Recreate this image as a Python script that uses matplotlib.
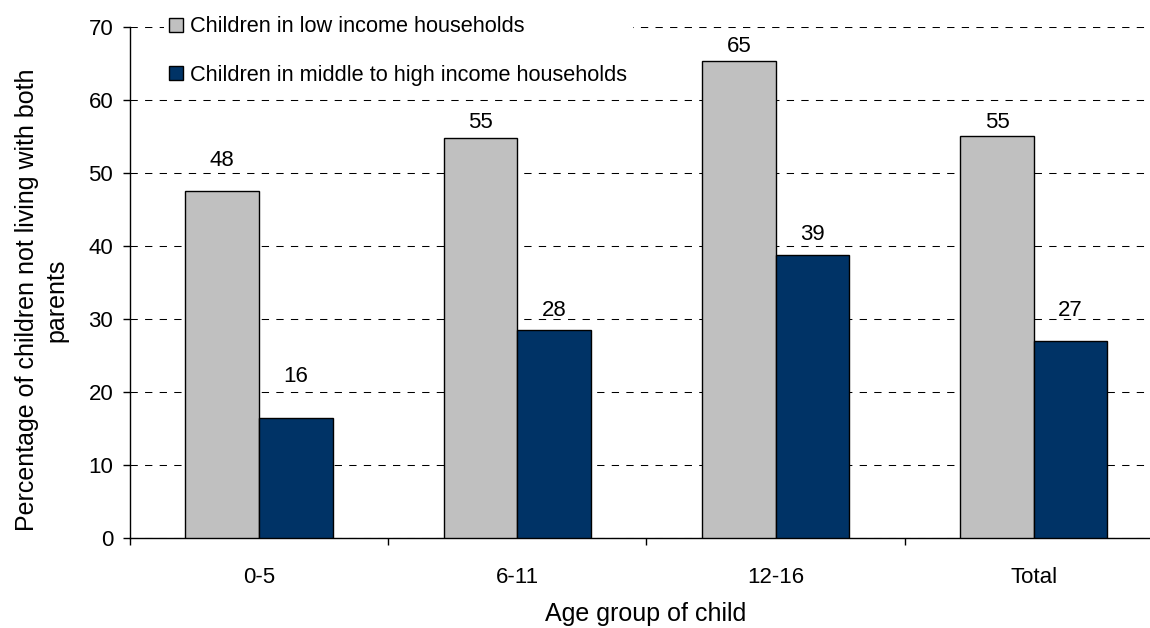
import numpy as np
import matplotlib
matplotlib.use("Agg")
import matplotlib.pyplot as plt

plt.rcParams['font.family'] = ['Liberation Sans', 'DejaVu Sans']

# data
age_groups = ["0-5", "6-11", "12-16", "Total"]
low_income = [47.6, 54.8, 65.4, 55.1]
mid_high_income = [16.5, 28.5, 38.8, 27.0]
low_labels = ["48", "55", "65", "55"]
mid_labels = ["16", "28", "39", "27"]

# gap (pixels) between bar top and its value label, as placed in the original
low_gap = [25, 10, 9, 8]
mid_gap = [36, 14, 15, 25]

GREY = "#C0C0C0"
NAVY = "#003366"

fig = plt.figure(figsize=(11.5, 6.28), dpi=100)
ax = fig.add_axes([0.1130, 0.1428, 0.8983, 0.8137])

x = np.arange(len(age_groups))
w = 0.285
b1 = ax.bar(x - w / 2, low_income, w, color=GREY, edgecolor="black", linewidth=1,
            label="Children in low income households", zorder=3)
b2 = ax.bar(x + w / 2, mid_high_income, w, color=NAVY, edgecolor="black", linewidth=1,
            label="Children in middle to high income households", zorder=3)

for rect, txt, gap in zip(b1, low_labels, low_gap):
    ax.annotate(txt, (rect.get_x() + rect.get_width() / 2, rect.get_height()),
                xytext=(0, gap), textcoords="offset pixels",
                ha="center", va="baseline", fontsize=16)
for rect, txt, gap in zip(b2, mid_labels, mid_gap):
    ax.annotate(txt, (rect.get_x() + rect.get_width() / 2, rect.get_height()),
                xytext=(0, gap), textcoords="offset pixels",
                ha="center", va="baseline", fontsize=16)

ax.set_xlim(-0.5, len(age_groups) - 0.5)
ax.set_ylim(0, 70)
ax.set_yticks(range(0, 71, 10))
ax.tick_params(axis="y", labelsize=16, length=5, width=1, pad=7)

# ticks at category boundaries, labels at centers
ax.set_xticks(np.arange(len(age_groups) + 1) - 0.5)
ax.set_xticklabels([])
ax.set_xticks(x, minor=True)
ax.set_xticklabels(age_groups, minor=True)
ax.tick_params(axis="x", which="major", length=5, width=1)
ax.tick_params(axis="x", which="minor", length=0, labelsize=16, pad=21)

ax.yaxis.grid(True, color="black", linewidth=0.75, linestyle=(0, (7, 7)), zorder=0)
ax.set_axisbelow(True)
for s in ["top", "right"]:
    ax.spines[s].set_visible(False)
ax.spines["left"].set_linewidth(1)
ax.spines["bottom"].set_linewidth(1)

leg = ax.legend(loc="upper left", bbox_to_anchor=(164 / 1150, 1 - 11 / 628),
                bbox_transform=fig.transFigure, fontsize=15.7, frameon=True,
                facecolor="white", edgecolor="none", framealpha=1, fancybox=False,
                borderpad=0.25, labelspacing=1.25, handlelength=0.6,
                handleheight=0.6, handletextpad=0.35, borderaxespad=0)
leg.set_zorder(10)

fig.text(646 / 1150, 1 - 614 / 628, "Age group of child", ha="center", va="center",
         fontsize=18)
fig.text(42 / 1150, 0.522, "Percentage of children not living with both\nparents",
         rotation=90, ha="center", va="center", multialignment="center",
         fontsize=18, linespacing=1.3)

fig.savefig("out.png", dpi=100)
